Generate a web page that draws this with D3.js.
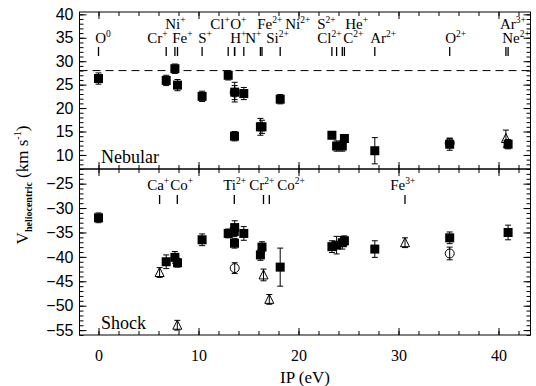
<!DOCTYPE html>
<html>
<head>
<meta charset="utf-8">
<script src="https://d3js.org/d3.v7.min.js"></script>
<style>
  body { margin: 0; background: #fff; }
  text { fill: #000; }
</style>
</head>
<body>
<svg id="drawing_region"></svg>
<script>
// ion markers: [name, charge, IP (eV), label row, label start (eV)]
var nebIons = [
    ["O", "0", 0.00, 2, -0.33], ["Cr", "+", 6.77, 2, 4.87], ["Ni", "+", 7.64, 1, 6.67],
    ["Fe", "+", 7.90, 2, 7.37], ["S", "+", 10.36, 2, 9.97], ["Cl", "+", 12.97, 1, 11.17],
    ["O", "+", 13.62, 1, 13.17], ["H", "+", 13.60, 2, 13.17], ["N", "+", 14.53, 2, 14.67],
    ["Fe", "2+", 16.19, 1, 15.87], ["Si", "2+", 16.35, 2, 16.77], ["Ni", "2+", 18.17, 1, 18.67],
    ["S", "2+", 23.34, 1, 21.87], ["Cl", "2+", 23.81, 2, 21.87], ["He", "+", 24.59, 1, 24.67],
    ["C", "2+", 24.38, 2, 24.47], ["Ar", "2+", 27.63, 2, 27.17], ["O", "2+", 35.12, 2, 34.67],
    ["Ar", "3+", 40.74, 1, 40.14], ["Ne", "2+", 40.96, 2, 40.37]
];
var shockIons = [
    ["Ca", "+", 6.11, 1, 4.87], ["Co", "+", 7.88, 1, 7.17], ["Ti", "2+", 13.58, 1, 12.47],
    ["Cr", "2+", 16.50, 1, 15.07], ["Co", "2+", 17.08, 1, 17.87], ["Fe", "3+", 30.65, 1, 29.17]
];

// measurements: [IP, velocity, error]
var nebSquares = [
    [0.00, 26.3, 1.2], [6.77, 25.9, 1.1], [7.64, 28.4, 1.0], [7.90, 24.9, 1.2],
    [10.36, 22.5, 1.1], [12.97, 27.0, 1.0], [13.62, 23.4, 2.1], [13.60, 14.0, 1.0],
    [14.53, 23.1, 1.3], [16.19, 16.0, 1.8], [16.35, 16.0, 1.4], [18.17, 21.9, 1.0],
    [23.34, 14.2, 0.7], [23.81, 11.9, 1.1], [24.38, 11.9, 1.1], [24.59, 13.5, 0.8],
    [27.63, 10.9, 2.8], [35.12, 12.3, 1.3], [40.96, 12.3, 1.0]
];
var nebCircles = [[13.62, 23.3, 1.5], [35.12, 12.5, 1.0]];
var nebTriangles = [[40.74, 13.5, 1.8]];

var shockSquares = [
    [0.00, -32.0, 1.0], [6.77, -41.0, 1.4], [7.64, -40.1, 1.2], [7.90, -41.2, 0.9],
    [10.36, -36.5, 1.2], [12.97, -35.2, 0.9], [13.62, -34.0, 1.4], [13.58, -34.8, 1.0],
    [13.60, -37.2, 1.0], [14.53, -35.2, 1.4], [16.19, -39.6, 1.1], [16.35, -38.0, 1.1],
    [18.17, -42.1, 3.9], [23.34, -37.9, 1.2], [23.81, -37.6, 1.8], [24.38, -37.1, 1.3],
    [24.59, -36.7, 1.0], [27.63, -38.4, 1.7], [35.12, -36.1, 1.2], [40.96, -35.0, 1.5]
];
var shockCircles = [[13.62, -42.3, 1.1], [35.12, -39.3, 1.3]];
var shockTriangles = [
    [6.11, -43.2, 1.0], [7.88, -54.0, 1.0], [16.50, -43.7, 1.2], [17.08, -48.7, 1.0], [30.65, -37.1, 1.0]
];

var dashedLevel = 28;
var xTicks = [0, 10, 20, 30, 40];
var nebTicks = [10, 15, 20, 25, 30, 35, 40];
var shockTicks = [-55, -50, -45, -40, -35, -30, -25];

var W = 536, H = 386;
var frame = { left: 79.5, right: 530.5, top: 12, mid: 169, bottom: 335 };
var serif = "'Liberation Serif', 'DejaVu Serif', serif";
var sans = "'Liberation Sans', 'DejaVu Sans', sans-serif";

var svg = d3.select("#drawing_region").attr("width", W).attr("height", H);

var x = d3.scaleLinear().domain([-1.9, 43.2]).range([frame.left, frame.right]);
var yNeb = d3.scaleLinear().domain([7, 40.5]).range([frame.mid, frame.top]);
var yShock = d3.scaleLinear().domain([-56, -22]).range([frame.bottom, frame.mid]);

function panel(y, y0, y1, majors, showX) {
    var g = svg.append("g");
    var minor = d3.range(Math.ceil(y.domain()[0]), Math.floor(y.domain()[1]) + 1);
    var xMinor = d3.range(0, 44, 2);

    function axis(gen, tr) {
        var a = g.append("g").attr("transform", tr).call(gen);
        a.select(".domain").remove();
        a.selectAll("line").attr("stroke", "#000");
        return a;
    }
    // y axes left/right
    var ly = axis(d3.axisLeft(y).tickValues(majors).tickSize(-7).tickPadding(6)
        .tickFormat(d => d < 0 ? "\u2212" + Math.abs(d) : d), `translate(${frame.left},0)`);
    ly.selectAll("text").attr("font-family", sans).attr("font-size", 16);
    axis(d3.axisLeft(y).tickValues(minor).tickSize(-4).tickFormat(""), `translate(${frame.left},0)`);
    axis(d3.axisRight(y).tickValues(majors).tickSize(-7).tickFormat(""), `translate(${frame.right},0)`);
    axis(d3.axisRight(y).tickValues(minor).tickSize(-4).tickFormat(""), `translate(${frame.right},0)`);
    // x axes top/bottom
    axis(d3.axisTop(x).tickValues(xTicks).tickSize(-7).tickFormat(""), `translate(0,${y1})`);
    axis(d3.axisTop(x).tickValues(xMinor).tickSize(-4).tickFormat(""), `translate(0,${y1})`);
    var bx = axis(d3.axisBottom(x).tickValues(xTicks).tickSize(-7).tickPadding(15)
        .tickFormat(showX ? d => d : ""), `translate(0,${y0})`);
    bx.selectAll("text").attr("font-family", serif).attr("font-size", 16);
    axis(d3.axisBottom(x).tickValues(xMinor).tickSize(-4).tickFormat(""), `translate(0,${y0})`);

    g.append("rect")
        .attr("x", frame.left).attr("y", y1)
        .attr("width", frame.right - frame.left).attr("height", y0 - y1)
        .attr("fill", "none").attr("stroke", "#000").attr("stroke-width", 1);
    return g;
}

var gNeb = panel(yNeb, frame.mid, frame.top, nebTicks, false);
var gShock = panel(yShock, frame.bottom, frame.mid, shockTicks, true);

// dashed reference line
gNeb.append("line")
    .attr("x1", frame.left).attr("x2", frame.right)
    .attr("y1", yNeb(dashedLevel)).attr("y2", yNeb(dashedLevel))
    .attr("stroke", "#000").attr("stroke-dasharray", "8,5");

function ionLabels(g, ions, rowBase, markY) {
    ions.forEach(d => {
        g.append("line")
            .attr("x1", x(d[2])).attr("x2", x(d[2]))
            .attr("y1", markY).attr("y2", markY + 9)
            .attr("stroke", "#000").attr("stroke-width", 1.3);
        var t = g.append("text")
            .attr("x", x(d[4])).attr("y", rowBase[d[3] - 1])
            .attr("font-family", serif).attr("font-size", 15);
        t.append("tspan").text(d[0]);
        t.append("tspan").attr("dy", -6).attr("font-size", 9.5).text(d[1]);
    });
}
ionLabels(gNeb, nebIons, [29, 43], 47);
ionLabels(gShock, shockIons, [190], 195);

function points(g, y, data, shape) {
    data.forEach(d => {
        var cx = x(d[0]), cy = y(d[1]);
        g.append("line")
            .attr("x1", cx).attr("x2", cx)
            .attr("y1", y(d[1] - d[2])).attr("y2", y(d[1] + d[2]))
            .attr("stroke", "#000");
        [d[1] - d[2], d[1] + d[2]].forEach(v => {
            g.append("line")
                .attr("x1", cx - 3).attr("x2", cx + 3)
                .attr("y1", y(v)).attr("y2", y(v))
                .attr("stroke", "#000");
        });
        if (shape === "square") {
            g.append("rect").attr("x", cx - 4.5).attr("y", cy - 4.5)
                .attr("width", 9).attr("height", 9).attr("fill", "#000");
        } else if (shape === "circle") {
            g.append("circle").attr("cx", cx).attr("cy", cy).attr("r", 4.5)
                .attr("fill", "none").attr("stroke", "#000");
        } else {
            g.append("path")
                .attr("d", `M${cx},${cy - 5}L${cx + 4.5},${cy + 4}L${cx - 4.5},${cy + 4}Z`)
                .attr("fill", "none").attr("stroke", "#000");
        }
    });
}
points(gNeb, yNeb, nebSquares, "square");
points(gNeb, yNeb, nebCircles, "circle");
points(gNeb, yNeb, nebTriangles, "triangle");
points(gShock, yShock, shockSquares, "square");
points(gShock, yShock, shockCircles, "circle");
points(gShock, yShock, shockTriangles, "triangle");

// panel names
svg.append("text").attr("x", 101).attr("y", 163)
    .attr("font-family", serif).attr("font-size", 18).text("Nebular");
svg.append("text").attr("x", 101).attr("y", 329)
    .attr("font-family", serif).attr("font-size", 18).text("Shock");

// axis titles
svg.append("text").attr("x", 305).attr("y", 383)
    .attr("text-anchor", "middle")
    .attr("font-family", serif).attr("font-size", 17).text("IP (eV)");

var yl = svg.append("text")
    .attr("transform", "translate(28,185) rotate(-90)")
    .attr("text-anchor", "middle")
    .attr("font-family", serif).attr("font-size", 17);
yl.append("tspan").text("V");
yl.append("tspan").attr("dy", 4).attr("font-size", 10).attr("font-weight", "bold").text("heliocentric");
yl.append("tspan").attr("dy", -4).text(" (km s");
yl.append("tspan").attr("dy", -7).attr("font-size", 10).text("-1");
yl.append("tspan").attr("dy", 7).text(")");
</script>
</body>
</html>
